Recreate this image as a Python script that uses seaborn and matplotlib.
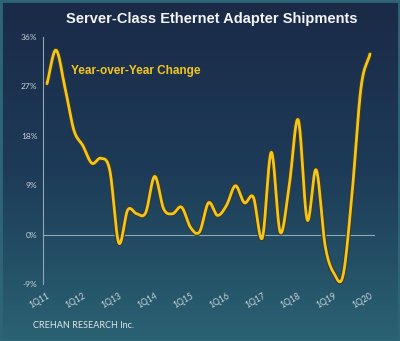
import numpy as np
import pandas as pd
import matplotlib
matplotlib.use("Agg")
import matplotlib.pyplot as plt
import matplotlib.patheffects as pe
from matplotlib.patches import Rectangle
from matplotlib.colors import LinearSegmentedColormap
import seaborn as sns

# ---- data ----
tick_labels = ["1Q11", "1Q12", "1Q13", "1Q14", "1Q15", "1Q16", "1Q17", "1Q18", "1Q19", "1Q20"]
yoy_change = [27.5, 33.6, 26.8, 19.0,
              16.2, 13.0, 13.9, 11.7,
              -1.5, 4.5, 3.8, 4.0,
              10.6, 4.7, 3.8, 5.0,
              1.3, 0.5, 5.8, 3.5,
              5.3, 8.9, 5.8, 6.8,
              -0.6, 15.0, 0.4, 9.0,
              20.9, 2.7, 11.8, -2.0,
              -7.1, -7.4, 7.5, 26.8,
              32.9]
y_ticks = [-9, 0, 9, 18, 27, 36]

quarter_idx = np.arange(len(yoy_change))


def catmull_rom(x, y, n=20):
    """Smooth line through the data points (like a spreadsheet 'smoothed line')."""
    x = np.asarray(x, float)
    y = np.asarray(y, float)
    px = np.concatenate([[2 * x[0] - x[1]], x, [2 * x[-1] - x[-2]]])
    py = np.concatenate([[2 * y[0] - y[1]], y, [2 * y[-1] - y[-2]]])
    xs, ys = [], []
    for i in range(1, len(px) - 2):
        t = np.linspace(0, 1, n, endpoint=False)
        for P, out in ((px, xs), (py, ys)):
            p0, p1, p2, p3 = P[i - 1], P[i], P[i + 1], P[i + 2]
            out.append(0.5 * ((2 * p1) + (-p0 + p2) * t
                              + (2 * p0 - 5 * p1 + 4 * p2 - p3) * t ** 2
                              + (-p0 + 3 * p1 - 3 * p2 + p3) * t ** 3))
    xs.append([x[-1]])
    ys.append([y[-1]])
    return np.concatenate(xs), np.concatenate(ys)


sx, sy = catmull_rom(quarter_idx, yoy_change)
df = pd.DataFrame({"q": sx, "v": sy})

sns.set_theme(style="white")
plt.rcParams["font.family"] = ["Liberation Sans", "DejaVu Sans"]

fig = plt.figure(figsize=(4.0, 3.41), dpi=100)

# gradient background
bg = fig.add_axes([0, 0, 1, 1], zorder=0)
cmap = LinearSegmentedColormap.from_list("bg", ["#1a2a47", "#1d3b58", "#2a6272"])
grad = np.linspace(0, 1, 256).reshape(-1, 1)
bg.imshow(grad, aspect="auto", cmap=cmap, extent=[0, 1, 0, 1], origin="upper")
bg.set_axis_off()
bg.add_patch(Rectangle((0, 0), 1, 1, transform=bg.transAxes, fill=False,
                       edgecolor="#2d6577", linewidth=3.5))

ax = fig.add_axes([43 / 400, 57 / 341, 332 / 400, 247 / 341], zorder=1)
ax.set_facecolor("none")

sns.lineplot(data=df, x="q", y="v", ax=ax, color="#f4c61c", linewidth=2.0,
             sort=False, estimator=None)
ax.lines[0].set_path_effects([pe.Stroke(linewidth=3.6, foreground="#3b3a2a"), pe.Normal()])
ax.lines[0].set_solid_capstyle("round")
ax.lines[0].set_clip_on(False)

ax.axhline(0, color="#8fa8b4", linewidth=0.8, zorder=0.5)

ax.set_xlim(-4 / 8.97, 36 + 5 / 8.97)
ax.set_ylim(-9, 36)
ax.set_xticks(quarter_idx[::4])
ax.set_xticklabels(tick_labels, rotation=30, ha="right", rotation_mode="anchor",
                   fontsize=6.2, color="#c9d3da", family=["Lato", "DejaVu Sans"])
ax.set_yticks(y_ticks)
ax.set_yticklabels([f"{t}%" for t in y_ticks], fontsize=6, color="#c9d3da",
                   family=["Lato", "DejaVu Sans"])
ax.tick_params(axis="both", length=0, pad=4)
ax.tick_params(axis="x", pad=5)
ax.set_xlabel("")
ax.set_ylabel("")
for s in ["top", "right", "bottom"]:
    ax.spines[s].set_visible(False)
ax.spines["left"].set_color("#8fa8b4")
ax.spines["left"].set_linewidth(0.8)

fig.text(212 / 400, 1 - 19 / 341, "Server-Class Ethernet Adapter Shipments",
         ha="center", va="center", fontsize=10.5, fontweight="bold", color="#f2f4f6")
ax.text(71 / 400, 1 - 71 / 341, "Year-over-Year Change", transform=fig.transFigure,
        ha="left", va="center", fontsize=8.5, fontweight="bold", color="#f4c61c")
fig.text(33 / 400, 1 - 325 / 341, "CREHAN RESEARCH Inc.", ha="left", va="center",
         fontsize=6.5, color="#dfe6ea", family=["Lato", "DejaVu Sans"])

fig.savefig("out.png", dpi=100)
